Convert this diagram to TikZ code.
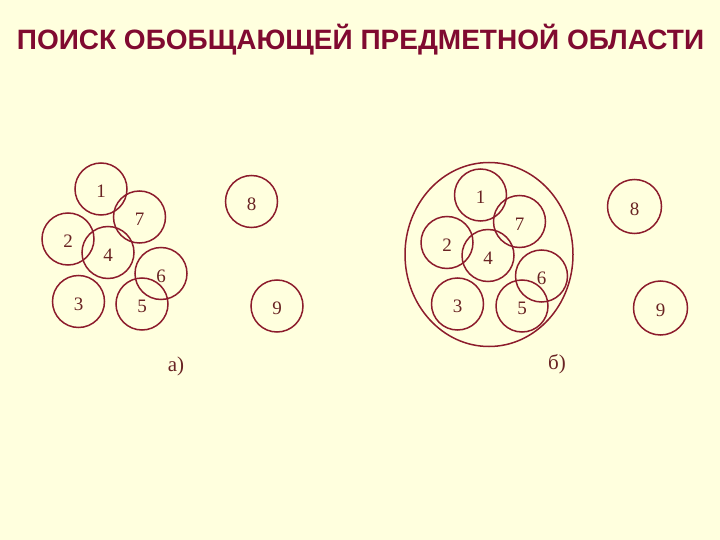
\documentclass[tikz,border=0pt]{standalone}
\usepackage{fontspec}
\setmainfont{Liberation Serif}
\newfontfamily\titlefont{Liberation Sans}
\definecolor{bgc}{RGB}{255,255,222}
\definecolor{ringc}{RGB}{140,28,44}
\definecolor{titlec}{RGB}{128,10,48}
\definecolor{numc}{RGB}{105,35,35}
\begin{document}
\begin{tikzpicture}[x=1pt,y=-1pt,
  circ/.style={circle,draw=ringc,line width=1.5pt,minimum size=52pt,inner sep=0pt},
  num/.style={text=numc,font=\fontsize{19}{19}\selectfont,inner sep=0pt},
  lbl/.style={text=numc,font=\fontsize{21}{21}\selectfont,inner sep=0pt},
  ttl/.style={text=titlec,font=\titlefont\bfseries\fontsize{28}{28}\selectfont,inner sep=0pt}]
\fill[bgc] (0,0) rectangle (720,540);
\useasboundingbox (0,0) rectangle (720,540);
\node[ttl,anchor=base] (title) at (360.5,49.3) {ПОИСК ОБОБЩАЮЩЕЙ ПРЕДМЕТНОЙ ОБЛАСТИ};
% left part a)
\node[circ] (a1) at (101,189) {};
\node[circ] (a7) at (139.5,217) {};
\node[circ] (a2) at (68,239) {};
\node[circ] (a4) at (108,252.5) {};
\node[circ] (a6) at (161,273.5) {};
\node[circ] (a3) at (78.5,301.5) {};
\node[circ] (a5) at (142,304) {};
\node[circ] (a8) at (251.5,201.5) {};
\node[circ] (a9) at (277,306) {};
\foreach \n in {1,...,9}{\node[num] at ([yshift=-2.5pt]a\n.center) {\n};}
\node[lbl] (la) at (176,366) {а)};
% right part b)
\draw[ringc,line width=1.5pt] (489,254.5) ellipse (84pt and 92pt);
\node[circ] (b1) at (480.5,195) {};
\node[circ] (b7) at (519.5,221.5) {};
\node[circ] (b2) at (447,242.5) {};
\node[circ] (b4) at (488,255.5) {};
\node[circ] (b6) at (541.5,276) {};
\node[circ] (b3) at (457.5,304) {};
\node[circ] (b5) at (522,306) {};
\node[circ,minimum size=54pt] (b8) at (634.5,206.5) {};
\node[circ,minimum size=54pt] (b9) at (660.5,308) {};
\foreach \n in {1,...,9}{\node[num] at ([yshift=-2.5pt]b\n.center) {\n};}
\node[lbl] (lb) at (557,364) {б)};
\end{tikzpicture}
\end{document}
